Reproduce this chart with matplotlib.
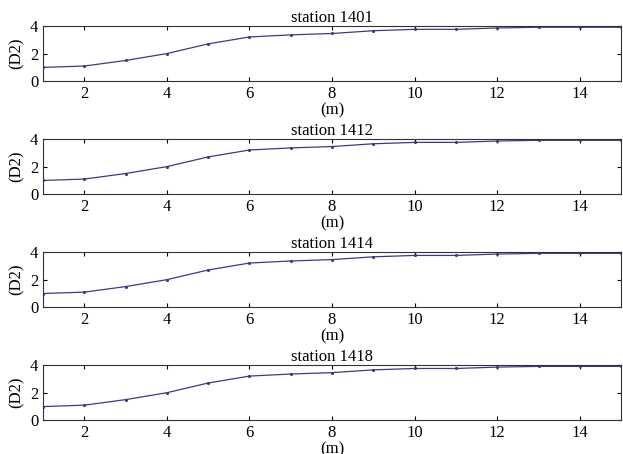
import matplotlib
matplotlib.use("Agg")
import matplotlib.pyplot as plt

m = list(range(1, 16))
d2 = [1.0, 1.1, 1.5, 2.0, 2.7, 3.2, 3.35, 3.45, 3.65, 3.75, 3.75, 3.85, 3.9, 3.9, 3.9]
stations = ["station 1401", "station 1412", "station 1414", "station 1418"]
xticks = [2, 4, 6, 8, 10, 12, 14]
yticks = [0, 2, 4]

plt.rcParams['font.family'] = ['Liberation Serif', 'DejaVu Serif']
plt.rcParams['font.size'] = 12

fig = plt.figure(figsize=(6.23, 4.54), dpi=100)
bottoms = [0.821, 0.572, 0.323, 0.074]
for st, b in zip(stations, bottoms):
    ax = fig.add_axes([0.069, b, 0.928, 0.122])
    ax.plot(m, d2, color='#3a3a8c', lw=0.9, marker='.', markersize=2.5)
    ax.set_xlim(1, 15)
    ax.set_ylim(0, 4)
    ax.set_xticks(xticks)
    ax.set_yticks(yticks)
    ax.tick_params(direction='in', top=True, right=True, length=3, pad=3.5, labelsize=12)
    ax.set_title(st, fontsize=12, pad=3)
    ax.set_xlabel("(m)", fontsize=12, labelpad=0)
    ax.set_ylabel("(D2)", fontsize=12, labelpad=4)
    for s in ax.spines.values():
        s.set_color('#333333')
        s.set_linewidth(0.8)

fig.savefig("out.png", dpi=100)
